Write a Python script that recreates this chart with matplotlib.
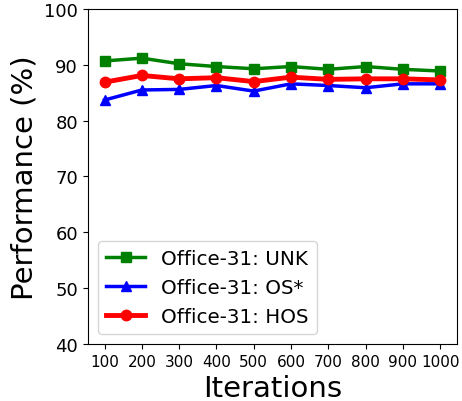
import matplotlib
matplotlib.use("Agg")
import matplotlib.pyplot as plt

iterations = [100, 200, 300, 400, 500, 600, 700, 800, 900, 1000]
unk = [90.7, 91.2, 90.2, 89.7, 89.3, 89.7, 89.2, 89.7, 89.2, 88.9]
os_star = [83.7, 85.5, 85.6, 86.3, 85.3, 86.6, 86.3, 85.9, 86.6, 86.6]
hos = [86.9, 88.1, 87.5, 87.7, 87.0, 87.8, 87.4, 87.5, 87.5, 87.3]

fig = plt.figure(figsize=(4.62, 4.02), dpi=100)
ax = fig.add_axes([0.19, 0.142, 0.799, 0.833])
ax.plot(iterations, unk, color='green', marker='s', linewidth=2.5, markersize=7.5, label='Office-31: UNK')
ax.plot(iterations, os_star, color='blue', marker='^', linewidth=2.5, markersize=7.5, label='Office-31: OS*')
ax.plot(iterations, hos, color='red', marker='o', linewidth=3.5, markersize=7.5, label='Office-31: HOS')
ax.set_ylim(40, 100)
ax.set_xlim(55, 1045)
ax.set_xticks(iterations)
ax.set_xticklabels([str(i) for i in iterations])
ax.tick_params(axis='x', labelsize=11)
ax.tick_params(axis='y', labelsize=13)
ax.set_xlabel('Iterations', fontsize=21)
ax.set_ylabel('Performance (%)', fontsize=21)
ax.legend(loc='lower left', fontsize=14.3, labelspacing=0.5)
fig.savefig('out.png', dpi=100)
